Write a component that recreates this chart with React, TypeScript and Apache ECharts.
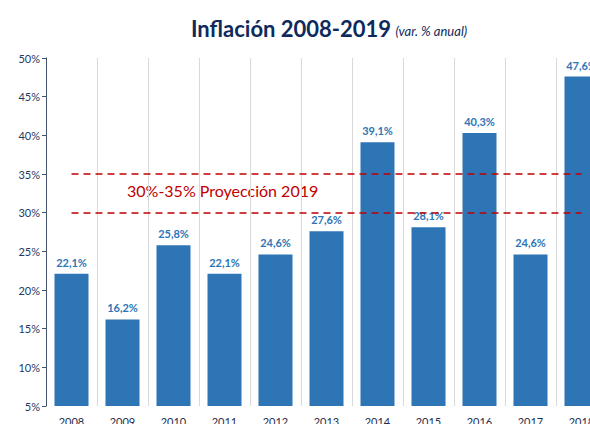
import React, { useEffect, useRef } from "react";
import * as echarts from "echarts";

const years = ["2008", "2009", "2010", "2011", "2012", "2013", "2014", "2015", "2016", "2017", "2018"];
const inflation = [22.1, 16.2, 25.8, 22.1, 24.6, 27.6, 39.1, 28.1, 40.3, 24.6, 47.6];
const projectionLow = 30;
const projectionHigh = 35;
const titleText = "Inflación 2008-2019";
const subtitleText = "(var. % anual)";
const projectionText = "30%-35% Proyección 2019";

const FONT = "Lato, 'Open Sans', sans-serif";

export default function App() {
  const ref = useRef<HTMLDivElement>(null);
  useEffect(() => {
    if (!ref.current) return;
    const chart = echarts.init(ref.current, undefined, { renderer: "svg" });
    const last = years.length - 1;
    chart.setOption({
      animation: false,
      backgroundColor: "#ffffff",
      textStyle: { fontFamily: FONT },
      title: {
        text: `{t|${titleText}} {s|${subtitleText}}`,
        left: 186,
        top: 12,
        textStyle: {
          rich: {
            t: { fontSize: 22, fontWeight: "bold", color: "#0E2A5C", fontFamily: FONT },
            s: { fontSize: 13, fontStyle: "italic", fontWeight: "normal", color: "#0E2A5C", fontFamily: FONT, padding: [6, 0, 0, 0] },
          },
        },
      },
      grid: { left: 46, top: 58, bottom: 18, right: 0, containLabel: false, outerBoundsMode: "none" },
      xAxis: {
        type: "category",
        data: years,
        axisLine: { show: false },
        axisTick: { show: false },
        axisLabel: { color: "#1F2D4D", fontSize: 11, margin: 10, fontFamily: FONT },
        splitLine: { show: true, lineStyle: { color: "#D9D9D9", width: 1 } },
      },
      yAxis: {
        type: "value",
        min: 5,
        max: 50,
        interval: 5,
        axisLine: { show: true, lineStyle: { color: "#44546A", width: 1 } },
        axisTick: { show: true, length: 4, lineStyle: { color: "#44546A" } },
        axisLabel: { color: "#1F3864", fontSize: 11, formatter: "{value}%", margin: 6, fontFamily: FONT },
        splitLine: { show: false },
      },
      series: [
        {
          type: "bar",
          data: inflation,
          barWidth: 34,
          itemStyle: { color: "#2E75B6" },
          label: {
            show: true,
            position: "top",
            distance: 6,
            color: "#2E75B6",
            fontWeight: "bold",
            fontSize: 11,
            fontFamily: FONT,
            formatter: (p: any) => p.value.toFixed(1).replace(".", ",") + "%",
          },
          markLine: {
            silent: true,
            symbol: "none",
            label: { show: false },
            lineStyle: { color: "#C00000", type: [7, 5], width: 1.6 },
            data: [
              [{ coord: [0, projectionLow] }, { coord: [last, projectionLow] }],
              [{ coord: [0, projectionHigh] }, { coord: [last, projectionHigh] }],
            ],
          },
        },
      ],
      graphic: [
        {
          type: "text",
          left: 127,
          top: 182,
          style: { text: projectionText, fill: "#C00000", fontSize: 16, fontFamily: FONT },
        },
      ],
    });
    return () => chart.dispose();
  }, []);
  return (
    <div style={{ width: 590, height: 424, position: "absolute", left: 0, top: 0, overflow: "hidden" }}>
      <div ref={ref} style={{ width: 607, height: 424 }} />
    </div>
  );
}
